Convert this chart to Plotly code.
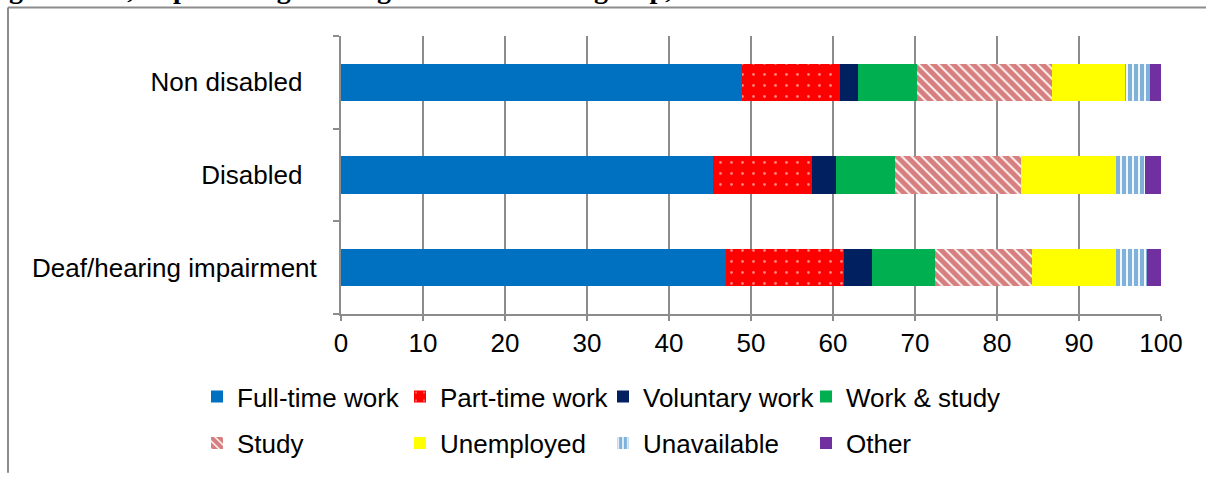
import plotly.graph_objects as go

categories = ["Deaf/hearing impairment", "Disabled", "Non disabled"]
tick_labels = ["Deaf/hearing impairment", "Disabled\u00a0\u00a0", "Non disabled\u00a0\u00a0"]

series_names = ["Full-time work", "Part-time work", "Voluntary work", "Work & study",
                "Study", "Unemployed", "Unavailable", "Other"]

full_time = [47.0, 45.4, 48.9]
part_time = [14.4, 12.0, 12.0]
voluntary = [3.3, 3.0, 2.1]
work_study = [7.7, 7.2, 7.2]
study = [11.9, 15.3, 16.5]
unemployed = [10.2, 11.6, 8.9]
unavailable = [3.8, 3.6, 3.1]
other = [1.7, 1.9, 1.3]

values = [full_time, part_time, voluntary, work_study, study, unemployed, unavailable, other]

styles = [
    dict(color="#0070C0"),
    dict(color="#FF0000", pattern=dict(shape=".", fgcolor="white", bgcolor="#FF0000", size=11, solidity=0.05)),
    dict(color="#002060"),
    dict(color="#00B050"),
    dict(color="#C00000", pattern=dict(shape="\\", fgcolor="#B00000", bgcolor="white", size=7, solidity=0.75)),
    dict(color="#FFFF00"),
    dict(color="#0070C0", pattern=dict(shape="|", fgcolor="#0064B8", bgcolor="white", size=6, solidity=0.7)),
    dict(color="#7030A0"),
]

fig = go.Figure()
for i, (name, vals, st) in enumerate(zip(series_names, values, styles)):
    fig.add_trace(go.Bar(
        y=categories, x=vals, name=name, orientation="h",
        marker=dict(line=dict(width=0), **st),
        legend="legend" if i < 4 else "legend2",
    ))

W, H = 1206, 479
L, R, T, B = 341, 45, 36, 161
pw, ph = W - L - R, H - T - B

def px_x(p):
    return (p - L) / pw

def px_y(p):
    return (H - B - p) / ph

FS = 26
leg_font = dict(family="Liberation Sans, Arial", size=FS, color="black")
fig.update_layout(
    width=W, height=H,
    margin=dict(l=L, r=R, t=T, b=B),
    paper_bgcolor="white", plot_bgcolor="white",
    barmode="stack", bargap=0.6,
    font=dict(family="Liberation Sans, Arial", size=FS, color="black"),
    xaxis=dict(range=[0, 100], dtick=10, showgrid=True, gridcolor="#8c8c8c", gridwidth=2,
               showline=True, linecolor="#8c8c8c", linewidth=2, ticks="outside", ticklen=5,
               tickcolor="#8c8c8c", tickwidth=2, zeroline=False, fixedrange=True,
               tickfont=dict(size=FS)),
    yaxis=dict(categoryorder="array", categoryarray=categories, tickmode="array",
               tickvals=categories, ticktext=tick_labels, showline=True, linecolor="#8c8c8c",
               linewidth=2, ticks="outside", ticklen=6, tickcolor="#8c8c8c", tickwidth=2,
               tickson="boundaries", showgrid=False, ticklabelstandoff=17, fixedrange=True,
               tickfont=dict(size=FS)),
    legend=dict(orientation="h", x=px_x(197), xanchor="left", y=px_y(378), yanchor="top",
                entrywidth=158, entrywidthmode="pixels", font=leg_font, bgcolor="rgba(0,0,0,0)",
                traceorder="normal"),
    legend2=dict(orientation="h", x=px_x(197), xanchor="left", y=px_y(425), yanchor="top",
                 entrywidth=158, entrywidthmode="pixels", font=leg_font, bgcolor="rgba(0,0,0,0)",
                 traceorder="normal"),
    showlegend=True,
)

# outer frame (left and top edges)
frame = dict(color="#8c8c8c", width=2)
fig.add_shape(type="line", xref="paper", yref="paper",
              x0=px_x(8), x1=px_x(8), y0=px_y(479), y1=px_y(7), line=frame, layer="below")
fig.add_shape(type="line", xref="paper", yref="paper",
              x0=px_x(8), x1=px_x(1206), y0=px_y(7), y1=px_y(7), line=frame, layer="below")

# cut-off title
fig.add_annotation(text="<b>graduates, as percentage of all graduates in each group, 2009/10</b>",
                   xref="paper", yref="paper", x=px_x(7), xanchor="left",
                   y=px_y(5.5), yanchor="bottom", showarrow=False,
                   font=dict(family="Liberation Serif, Times New Roman", size=28, color="black"))

fig.write_html("out.html", config={"displayModeBar": False},
               post_script="document.body.style.margin='0';")
